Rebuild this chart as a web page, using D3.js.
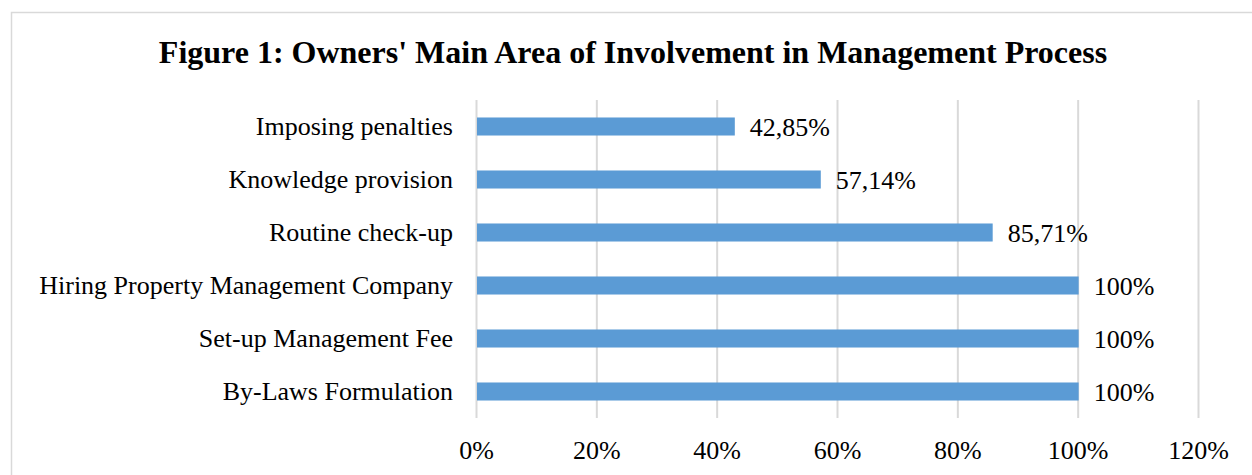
<!DOCTYPE html>
<html>
<head>
<meta charset="utf-8">
<script src="https://cdn.jsdelivr.net/npm/d3@7"></script>
<style>
  body { margin: 0; background: #fff; }
  text { font-family: "Liberation Serif", "Times New Roman", serif; fill: #000; }
</style>
</head>
<body>
<div id="chart"></div>
<script>
// data
var categories = ["Imposing penalties", "Knowledge provision", "Routine check-up",
                  "Hiring Property Management Company", "Set-up Management Fee", "By-Laws Formulation"];
var values = [42.85, 57.14, 85.71, 100, 100, 100];
var valueLabels = ["42,85%", "57,14%", "85,71%", "100%", "100%", "100%"];
var tickValues = [0, 20, 40, 60, 80, 100, 120];

var W = 1252, H = 475;
var margin = {top: 100, left: 476};

var svg = d3.select("#chart")
  .append("svg")
    .attr("width", W)
    .attr("height", H);

// chart frame (cut off at right / bottom like the source)
svg.append("rect")
  .attr("x", 11.5).attr("y", 12.5)
  .attr("width", 1400).attr("height", 600)
  .attr("fill", "none")
  .attr("stroke", "#d9d9d9")
  .attr("stroke-width", 1.5);

svg.append("text")
  .attr("x", 633).attr("y", 63)
  .attr("text-anchor", "middle")
  .style("font-size", "32px")
  .style("font-weight", "bold")
  .text("Figure 1: Owners' Main Area of Involvement in Management Process");

var g = svg.append("g")
  .attr("transform", "translate(" + margin.left + "," + margin.top + ")");

var x = d3.scaleLinear()
  .domain([0, 120])
  .range([0, 722]);

var y = d3.scaleBand()
  .domain(categories)
  .range([0, 318])
  .paddingInner(0.66)
  .paddingOuter(0.33);

// gridlines
g.append("g")
  .selectAll("line")
  .data(tickValues)
  .enter()
  .append("line")
  .attr("x1", function(d) { return x(d) + 0.5; })
  .attr("x2", function(d) { return x(d) + 0.5; })
  .attr("y1", 0)
  .attr("y2", 318)
  .attr("stroke", "#d9d9d9")
  .attr("stroke-width", 2);

// x axis labels
var xAxis = g.append("g")
  .attr("transform", "translate(0,318)")
  .call(d3.axisBottom(x)
    .tickValues(tickValues)
    .tickSize(0)
    .tickPadding(23)
    .tickFormat(function(d) { return d + "%"; }));
xAxis.select(".domain").remove();
xAxis.selectAll("text").style("font-size", "26px").style("font-family", "Liberation Serif, serif");

// y axis labels
var yAxis = g.append("g")
  .call(d3.axisLeft(y).tickSize(0).tickPadding(23));
yAxis.select(".domain").remove();
yAxis.selectAll("text").style("font-size", "26px").style("font-family", "Liberation Serif, serif");

// bars
g.append("g")
  .selectAll("rect")
  .data(values)
  .enter()
  .append("rect")
  .attr("x", x(0) + 1)
  .attr("y", function(d, i) { return y(categories[i]); })
  .attr("width", function(d) { return x(d) - x(0); })
  .attr("height", y.bandwidth())
  .attr("fill", "#5b9bd5");

// value labels
g.append("g")
  .selectAll("text")
  .data(values)
  .enter()
  .append("text")
  .attr("x", function(d) { return x(d) + 16; })
  .attr("y", function(d, i) { return y(categories[i]) + y.bandwidth() / 2; })
  .attr("dy", "0.35em")
  .style("font-size", "26px")
  .text(function(d, i) { return valueLabels[i]; });
</script>
</body>
</html>
